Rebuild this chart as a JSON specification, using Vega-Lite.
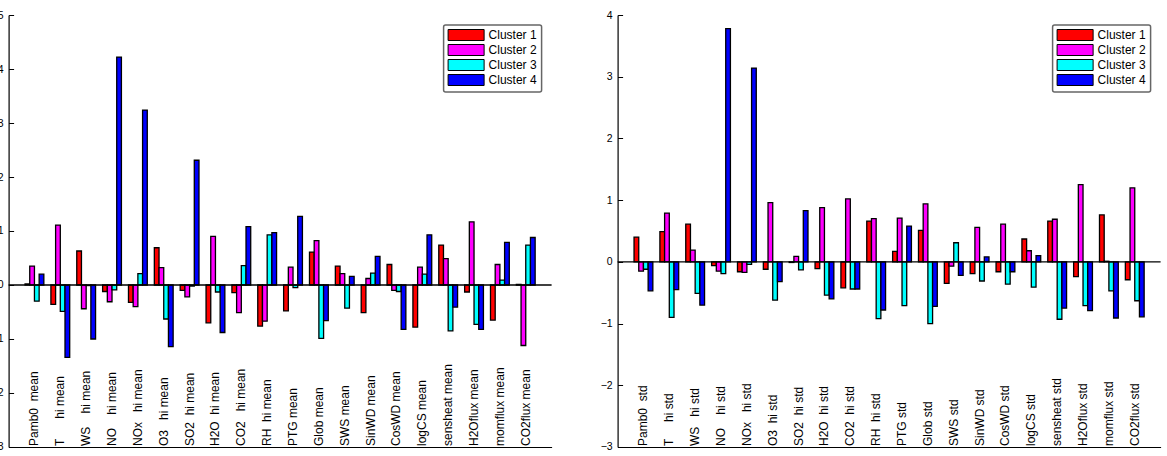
{
  "$schema": "https://vega.github.io/schema/vega-lite/v6.json",
  "padding": {"left": -9.4, "top": 10, "right": 2, "bottom": 2},
  "background": "white",
  "datasets": {
    "mean": [
      {"var":"Pamb0","cluster":"Cluster 1","value":0.02},{"var":"Pamb0","cluster":"Cluster 2","value":0.35},{"var":"Pamb0","cluster":"Cluster 3","value":-0.30},{"var":"Pamb0","cluster":"Cluster 4","value":0.20},
      {"var":"T","cluster":"Cluster 1","value":-0.36},{"var":"T","cluster":"Cluster 2","value":1.11},{"var":"T","cluster":"Cluster 3","value":-0.49},{"var":"T","cluster":"Cluster 4","value":-1.34},
      {"var":"WS","cluster":"Cluster 1","value":0.63},{"var":"WS","cluster":"Cluster 2","value":-0.44},{"var":"WS","cluster":"Cluster 3","value":-0.01},{"var":"WS","cluster":"Cluster 4","value":-1.00},
      {"var":"NO","cluster":"Cluster 1","value":-0.12},{"var":"NO","cluster":"Cluster 2","value":-0.31},{"var":"NO","cluster":"Cluster 3","value":-0.09},{"var":"NO","cluster":"Cluster 4","value":4.22},
      {"var":"NOx","cluster":"Cluster 1","value":-0.32},{"var":"NOx","cluster":"Cluster 2","value":-0.40},{"var":"NOx","cluster":"Cluster 3","value":0.21},{"var":"NOx","cluster":"Cluster 4","value":3.24},
      {"var":"O3","cluster":"Cluster 1","value":0.69},{"var":"O3","cluster":"Cluster 2","value":0.32},{"var":"O3","cluster":"Cluster 3","value":-0.63},{"var":"O3","cluster":"Cluster 4","value":-1.14},
      {"var":"SO2","cluster":"Cluster 1","value":-0.10},{"var":"SO2","cluster":"Cluster 2","value":-0.22},{"var":"SO2","cluster":"Cluster 3","value":-0.02},{"var":"SO2","cluster":"Cluster 4","value":2.31},
      {"var":"H2O","cluster":"Cluster 1","value":-0.70},{"var":"H2O","cluster":"Cluster 2","value":0.90},{"var":"H2O","cluster":"Cluster 3","value":-0.13},{"var":"H2O","cluster":"Cluster 4","value":-0.88},
      {"var":"CO2","cluster":"Cluster 1","value":-0.14},{"var":"CO2","cluster":"Cluster 2","value":-0.51},{"var":"CO2","cluster":"Cluster 3","value":0.36},{"var":"CO2","cluster":"Cluster 4","value":1.08},
      {"var":"RH","cluster":"Cluster 1","value":-0.76},{"var":"RH","cluster":"Cluster 2","value":-0.67},{"var":"RH","cluster":"Cluster 3","value":0.93},{"var":"RH","cluster":"Cluster 4","value":0.97},
      {"var":"PTG","cluster":"Cluster 1","value":-0.48},{"var":"PTG","cluster":"Cluster 2","value":0.33},{"var":"PTG","cluster":"Cluster 3","value":-0.05},{"var":"PTG","cluster":"Cluster 4","value":1.27},
      {"var":"Glob","cluster":"Cluster 1","value":0.61},{"var":"Glob","cluster":"Cluster 2","value":0.82},{"var":"Glob","cluster":"Cluster 3","value":-0.99},{"var":"Glob","cluster":"Cluster 4","value":-0.66},
      {"var":"SWS","cluster":"Cluster 1","value":0.35},{"var":"SWS","cluster":"Cluster 2","value":0.21},{"var":"SWS","cluster":"Cluster 3","value":-0.43},{"var":"SWS","cluster":"Cluster 4","value":0.16},
      {"var":"SinWD","cluster":"Cluster 1","value":-0.51},{"var":"SinWD","cluster":"Cluster 2","value":0.12},{"var":"SinWD","cluster":"Cluster 3","value":0.22},{"var":"SinWD","cluster":"Cluster 4","value":0.53},
      {"var":"CosWD","cluster":"Cluster 1","value":0.38},{"var":"CosWD","cluster":"Cluster 2","value":-0.10},{"var":"CosWD","cluster":"Cluster 3","value":-0.12},{"var":"CosWD","cluster":"Cluster 4","value":-0.82},
      {"var":"logCS","cluster":"Cluster 1","value":-0.78},{"var":"logCS","cluster":"Cluster 2","value":0.33},{"var":"logCS","cluster":"Cluster 3","value":0.20},{"var":"logCS","cluster":"Cluster 4","value":0.93},
      {"var":"sensheat","cluster":"Cluster 1","value":0.74},{"var":"sensheat","cluster":"Cluster 2","value":0.49},{"var":"sensheat","cluster":"Cluster 3","value":-0.85},{"var":"sensheat","cluster":"Cluster 4","value":-0.41},
      {"var":"H2Oflux","cluster":"Cluster 1","value":-0.13},{"var":"H2Oflux","cluster":"Cluster 2","value":1.17},{"var":"H2Oflux","cluster":"Cluster 3","value":-0.73},{"var":"H2Oflux","cluster":"Cluster 4","value":-0.82},
      {"var":"momflux","cluster":"Cluster 1","value":-0.65},{"var":"momflux","cluster":"Cluster 2","value":0.38},{"var":"momflux","cluster":"Cluster 3","value":0.09},{"var":"momflux","cluster":"Cluster 4","value":0.79},
      {"var":"CO2flux","cluster":"Cluster 1","value":0.01},{"var":"CO2flux","cluster":"Cluster 2","value":-1.12},{"var":"CO2flux","cluster":"Cluster 3","value":0.74},{"var":"CO2flux","cluster":"Cluster 4","value":0.88}
    ],
    "std": [
      {"var":"Pamb0","cluster":"Cluster 1","value":0.40},{"var":"Pamb0","cluster":"Cluster 2","value":-0.15},{"var":"Pamb0","cluster":"Cluster 3","value":-0.12},{"var":"Pamb0","cluster":"Cluster 4","value":-0.47},
      {"var":"T","cluster":"Cluster 1","value":0.49},{"var":"T","cluster":"Cluster 2","value":0.79},{"var":"T","cluster":"Cluster 3","value":-0.90},{"var":"T","cluster":"Cluster 4","value":-0.45},
      {"var":"WS","cluster":"Cluster 1","value":0.61},{"var":"WS","cluster":"Cluster 2","value":0.19},{"var":"WS","cluster":"Cluster 3","value":-0.51},{"var":"WS","cluster":"Cluster 4","value":-0.70},
      {"var":"NO","cluster":"Cluster 1","value":-0.06},{"var":"NO","cluster":"Cluster 2","value":-0.15},{"var":"NO","cluster":"Cluster 3","value":-0.19},{"var":"NO","cluster":"Cluster 4","value":3.78},
      {"var":"NOx","cluster":"Cluster 1","value":-0.16},{"var":"NOx","cluster":"Cluster 2","value":-0.17},{"var":"NOx","cluster":"Cluster 3","value":-0.04},{"var":"NOx","cluster":"Cluster 4","value":3.14},
      {"var":"O3","cluster":"Cluster 1","value":-0.12},{"var":"O3","cluster":"Cluster 2","value":0.96},{"var":"O3","cluster":"Cluster 3","value":-0.62},{"var":"O3","cluster":"Cluster 4","value":-0.32},
      {"var":"SO2","cluster":"Cluster 1","value":-0.01},{"var":"SO2","cluster":"Cluster 2","value":0.09},{"var":"SO2","cluster":"Cluster 3","value":-0.13},{"var":"SO2","cluster":"Cluster 4","value":0.83},
      {"var":"H2O","cluster":"Cluster 1","value":-0.11},{"var":"H2O","cluster":"Cluster 2","value":0.88},{"var":"H2O","cluster":"Cluster 3","value":-0.54},{"var":"H2O","cluster":"Cluster 4","value":-0.60},
      {"var":"CO2","cluster":"Cluster 1","value":-0.42},{"var":"CO2","cluster":"Cluster 2","value":1.02},{"var":"CO2","cluster":"Cluster 3","value":-0.44},{"var":"CO2","cluster":"Cluster 4","value":-0.44},
      {"var":"RH","cluster":"Cluster 1","value":0.66},{"var":"RH","cluster":"Cluster 2","value":0.70},{"var":"RH","cluster":"Cluster 3","value":-0.92},{"var":"RH","cluster":"Cluster 4","value":-0.78},
      {"var":"PTG","cluster":"Cluster 1","value":0.17},{"var":"PTG","cluster":"Cluster 2","value":0.71},{"var":"PTG","cluster":"Cluster 3","value":-0.71},{"var":"PTG","cluster":"Cluster 4","value":0.58},
      {"var":"Glob","cluster":"Cluster 1","value":0.51},{"var":"Glob","cluster":"Cluster 2","value":0.94},{"var":"Glob","cluster":"Cluster 3","value":-1.00},{"var":"Glob","cluster":"Cluster 4","value":-0.72},
      {"var":"SWS","cluster":"Cluster 1","value":-0.35},{"var":"SWS","cluster":"Cluster 2","value":-0.07},{"var":"SWS","cluster":"Cluster 3","value":0.31},{"var":"SWS","cluster":"Cluster 4","value":-0.22},
      {"var":"SinWD","cluster":"Cluster 1","value":-0.19},{"var":"SinWD","cluster":"Cluster 2","value":0.56},{"var":"SinWD","cluster":"Cluster 3","value":-0.31},{"var":"SinWD","cluster":"Cluster 4","value":0.08},
      {"var":"CosWD","cluster":"Cluster 1","value":-0.16},{"var":"CosWD","cluster":"Cluster 2","value":0.61},{"var":"CosWD","cluster":"Cluster 3","value":-0.36},{"var":"CosWD","cluster":"Cluster 4","value":-0.16},
      {"var":"logCS","cluster":"Cluster 1","value":0.37},{"var":"logCS","cluster":"Cluster 2","value":0.18},{"var":"logCS","cluster":"Cluster 3","value":-0.41},{"var":"logCS","cluster":"Cluster 4","value":0.10},
      {"var":"sensheat","cluster":"Cluster 1","value":0.66},{"var":"sensheat","cluster":"Cluster 2","value":0.69},{"var":"sensheat","cluster":"Cluster 3","value":-0.93},{"var":"sensheat","cluster":"Cluster 4","value":-0.75},
      {"var":"H2Oflux","cluster":"Cluster 1","value":-0.24},{"var":"H2Oflux","cluster":"Cluster 2","value":1.25},{"var":"H2Oflux","cluster":"Cluster 3","value":-0.71},{"var":"H2Oflux","cluster":"Cluster 4","value":-0.79},
      {"var":"momflux","cluster":"Cluster 1","value":0.76},{"var":"momflux","cluster":"Cluster 2","value":0.01},{"var":"momflux","cluster":"Cluster 3","value":-0.47},{"var":"momflux","cluster":"Cluster 4","value":-0.91},
      {"var":"CO2flux","cluster":"Cluster 1","value":-0.29},{"var":"CO2flux","cluster":"Cluster 2","value":1.20},{"var":"CO2flux","cluster":"Cluster 3","value":-0.63},{"var":"CO2flux","cluster":"Cluster 4","value":-0.89}
    ],
    "meanLabels": [
      {"var":"Pamb0","label":"Pamb0\u00a0\u00a0mean"},
      {"var":"T","label":"T\u00a0\u00a0\u00a0\u00a0\u00a0\u00a0hi\u00a0mean"},
      {"var":"WS","label":"WS\u00a0\u00a0\u00a0\u00a0hi\u00a0mean"},
      {"var":"NO","label":"NO\u00a0\u00a0\u00a0\u00a0hi\u00a0mean"},
      {"var":"NOx","label":"NOx\u00a0\u00a0\u00a0hi\u00a0mean"},
      {"var":"O3","label":"O3\u00a0\u00a0\u00a0hi\u00a0mean"},
      {"var":"SO2","label":"SO2\u00a0\u00a0hi\u00a0mean"},
      {"var":"H2O","label":"H2O\u00a0\u00a0hi\u00a0mean"},
      {"var":"CO2","label":"CO2\u00a0\u00a0\u00a0hi\u00a0mean"},
      {"var":"RH","label":"RH\u00a0\u00a0hi\u00a0mean"},
      {"var":"PTG","label":"PTG mean"},
      {"var":"Glob","label":"Glob mean"},
      {"var":"SWS","label":"SWS mean"},
      {"var":"SinWD","label":"SinWD mean"},
      {"var":"CosWD","label":"CosWD mean"},
      {"var":"logCS","label":"logCS mean"},
      {"var":"sensheat","label":"sensheat mean"},
      {"var":"H2Oflux","label":"H2Oflux mean"},
      {"var":"momflux","label":"momflux mean"},
      {"var":"CO2flux","label":"CO2flux mean"}
    ],
    "stdLabels": [
      {"var":"Pamb0","label":"Pamb0\u00a0\u00a0std"},
      {"var":"T","label":"T\u00a0\u00a0\u00a0\u00a0\u00a0hi\u00a0std"},
      {"var":"WS","label":"WS\u00a0\u00a0\u00a0hi\u00a0std"},
      {"var":"NO","label":"NO\u00a0\u00a0\u00a0\u00a0hi\u00a0std"},
      {"var":"NOx","label":"NOx\u00a0\u00a0\u00a0hi\u00a0std"},
      {"var":"O3","label":"O3\u00a0\u00a0hi\u00a0std"},
      {"var":"SO2","label":"SO2\u00a0\u00a0hi\u00a0std"},
      {"var":"H2O","label":"H2O\u00a0\u00a0hi\u00a0std"},
      {"var":"CO2","label":"CO2\u00a0\u00a0hi\u00a0std"},
      {"var":"RH","label":"RH\u00a0\u00a0hi\u00a0std"},
      {"var":"PTG","label":"PTG std"},
      {"var":"Glob","label":"Glob std"},
      {"var":"SWS","label":"SWS std"},
      {"var":"SinWD","label":"SinWD std"},
      {"var":"CosWD","label":"CosWD std"},
      {"var":"logCS","label":"logCS std"},
      {"var":"sensheat","label":"sensheat std"},
      {"var":"H2Oflux","label":"H2Oflux std"},
      {"var":"momflux","label":"momflux std"},
      {"var":"CO2flux","label":"CO2flux std"}
    ]
  },
  "spacing": 47,
  "resolve": {"scale": {"color": "independent"}, "legend": {"color": "independent"}},
  "hconcat": [
    {
      "width": 543,
      "height": 432,
      "layer": [
        {
          "data": {"name": "mean"},
          "mark": {"type": "bar", "stroke": "black", "strokeWidth": 1.3},
          "encoding": {
            "x": {"field": "var", "type": "nominal", "sort": null,
                  "scale": {"domain": ["Pamb0","T","WS","NO","NOx","O3","SO2","H2O","CO2","RH","PTG","Glob","SWS","SinWD","CosWD","logCS","sensheat","H2Oflux","momflux","CO2flux"], "paddingInner": 0.273, "paddingOuter": 0.636},
                  "axis": {"labels": false, "ticks": false, "title": null, "domain": true}},
            "xOffset": {"field": "cluster", "type": "nominal", "scale": {"paddingInner": 0, "paddingOuter": 0}},
            "y": {"field": "value", "type": "quantitative",
                  "scale": {"domain": [-3, 5], "nice": false, "zero": false},
                  "axis": {"title": null, "values": [-3,-2,-1,0,1,2,3,4,5], "format": "d"}},
            "color": {"field": "cluster", "type": "nominal",
                      "scale": {"domain": ["Cluster 1","Cluster 2","Cluster 3","Cluster 4"], "range": ["#ff0000","#ff00ff","#00ffff","#0000ff"]},
                      "legend": {"title": null}}
          }
        },
        {
          "data": {"values": [{}]},
          "mark": {"type": "rule", "color": "black", "strokeWidth": 1.3},
          "encoding": {"y": {"datum": 0}}
        },
        {
          "data": {"name": "meanLabels"},
          "mark": {"type": "text", "angle": 270, "align": "left", "baseline": "middle", "fontSize": 12, "color": "black", "dx": 1},
          "encoding": {
            "x": {"field": "var", "type": "nominal", "sort": null,
                  "scale": {"domain": ["Pamb0","T","WS","NO","NOx","O3","SO2","H2O","CO2","RH","PTG","Glob","SWS","SinWD","CosWD","logCS","sensheat","H2Oflux","momflux","CO2flux"], "paddingInner": 0.273, "paddingOuter": 0.636}},
            "y": {"datum": -3},
            "text": {"field": "label"}
          }
        }
      ]
    },
    {
      "width": 543,
      "height": 432,
      "layer": [
        {
          "data": {"name": "std"},
          "mark": {"type": "bar", "stroke": "black", "strokeWidth": 1.3},
          "encoding": {
            "x": {"field": "var", "type": "nominal", "sort": null,
                  "scale": {"domain": ["Pamb0","T","WS","NO","NOx","O3","SO2","H2O","CO2","RH","PTG","Glob","SWS","SinWD","CosWD","logCS","sensheat","H2Oflux","momflux","CO2flux"], "paddingInner": 0.273, "paddingOuter": 0.636},
                  "axis": {"labels": false, "ticks": false, "title": null, "domain": true}},
            "xOffset": {"field": "cluster", "type": "nominal", "scale": {"paddingInner": 0, "paddingOuter": 0}},
            "y": {"field": "value", "type": "quantitative",
                  "scale": {"domain": [-3, 4], "nice": false, "zero": false},
                  "axis": {"title": null, "values": [-3,-2,-1,0,1,2,3,4], "format": "d"}},
            "color": {"field": "cluster", "type": "nominal",
                      "scale": {"domain": ["Cluster 1","Cluster 2","Cluster 3","Cluster 4"], "range": ["#ff0000","#ff00ff","#00ffff","#0000ff"]},
                      "legend": {"title": null}}
          }
        },
        {
          "data": {"values": [{}]},
          "mark": {"type": "rule", "color": "black", "strokeWidth": 1.3},
          "encoding": {"y": {"datum": 0}}
        },
        {
          "data": {"name": "stdLabels"},
          "mark": {"type": "text", "angle": 270, "align": "left", "baseline": "middle", "fontSize": 12, "color": "black", "dx": 1},
          "encoding": {
            "x": {"field": "var", "type": "nominal", "sort": null,
                  "scale": {"domain": ["Pamb0","T","WS","NO","NOx","O3","SO2","H2O","CO2","RH","PTG","Glob","SWS","SinWD","CosWD","logCS","sensheat","H2Oflux","momflux","CO2flux"], "paddingInner": 0.273, "paddingOuter": 0.636}},
            "y": {"datum": -3},
            "text": {"field": "label"}
          }
        }
      ]
    }
  ],
  "config": {
    "font": "Liberation Sans",
    "view": {"stroke": null},
    "axis": {"domainColor": "black", "domainWidth": 1.2, "tickColor": "black", "tickWidth": 1, "tickSize": -5, "labelPadding": 10.5, "labelColor": "black", "labelFontSize": 10.5, "grid": false},
    "legend": {
      "orient": "top-right", "offset": 10,
      "strokeColor": "#666", "strokeWidth": 1.5, "cornerRadius": 2, "fillColor": "white",
      "padding": 4, "rowPadding": -1,
      "labelFontSize": 12, "labelColor": "black", "labelOffset": 29,
      "symbolType": "M-1,-1H5.55V1H-1Z", "symbolSize": 121,
      "symbolStrokeColor": "black", "symbolStrokeWidth": 1, "symbolOpacity": 1
    }
  }
}
